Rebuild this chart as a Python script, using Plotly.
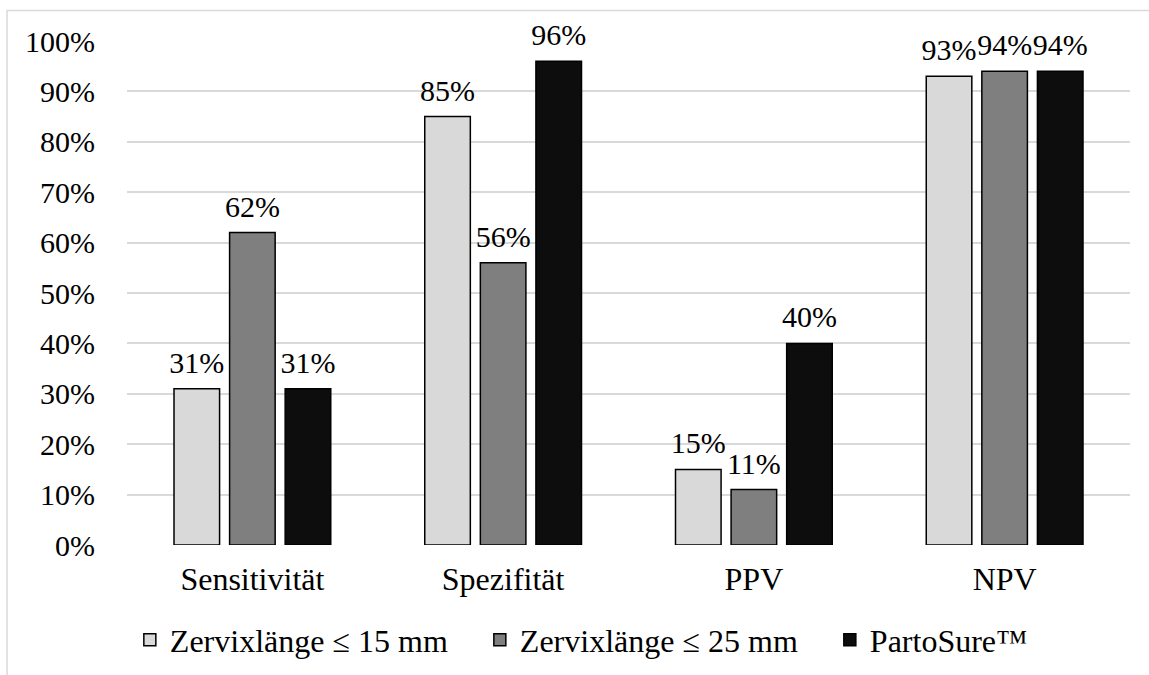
import plotly.graph_objects as go

# Diagnostic accuracy measures per method (fractions)
categories = ["Sensitivität", "Spezifität", "PPV", "NPV"]
series_names = ["Zervixlänge ≤ 15 mm", "Zervixlänge ≤ 25 mm", "PartoSure™"]
cl15 = [0.31, 0.85, 0.15, 0.93]
cl25 = [0.62, 0.56, 0.11, 0.94]
partosure = [0.31, 0.96, 0.40, 0.94]
series_values = [cl15, cl25, partosure]
series_colors = ["#d9d9d9", "#7f7f7f", "#0d0d0d"]
legend_widths = [305, 305, 160]

ytick_vals = [i / 10 for i in range(11)]
ytick_text = [f"{i * 10}%" for i in range(11)]

FONT = "Liberation Serif, Times New Roman, serif"
FS_NUM = 30   # percentages (ticks and value labels)
FS_TXT = 32   # category names and legend
BARGAP = 0.335

fig = go.Figure()
for i, (name, vals, col, lw) in enumerate(zip(series_names, series_values, series_colors, legend_widths)):
    fig.add_trace(go.Bar(
        x=categories,
        y=vals,
        name=name,
        offsetgroup=str(i),
        marker=dict(color=col, line=dict(color="#000000", width=1.5)),
        legendwidth=lw,
        hoverinfo="skip",
    ))

# value labels, grouped the same way as the bars and lifted above each bar top
for i, vals in enumerate(series_values):
    fig.add_trace(go.Scatter(
        x=categories,
        y=vals,
        mode="markers+text",
        offsetgroup=str(i),
        marker=dict(size=12, opacity=0),
        text=[f"{round(v * 100)}%" for v in vals],
        textposition="top center",
        textfont=dict(family=FONT, size=FS_NUM, color="#000000"),
        cliponaxis=False,
        showlegend=False,
        hoverinfo="skip",
    ))

fig.update_layout(
    width=1149,
    height=675,
    margin=dict(l=127, r=19, t=41, b=130, autoexpand=False),
    paper_bgcolor="#ffffff",
    plot_bgcolor="#ffffff",
    font=dict(family=FONT, size=FS_TXT, color="#000000"),
    barmode="group",
    bargap=BARGAP,
    bargroupgap=0.18,
    scattermode="group",
    scattergap=BARGAP,
    showlegend=True,
    legend=dict(
        orientation="h",
        xref="container", yref="container",
        x=0.113, y=0.052,
        xanchor="left", yanchor="middle",
        entrywidthmode="pixels",
        font=dict(family=FONT, size=FS_TXT, color="#000000"),
        bgcolor="rgba(0,0,0,0)",
        itemclick=False,
    ),
    xaxis=dict(
        showgrid=False,
        showline=False,
        zeroline=False,
        ticks="",
        automargin=False,
        ticklabelstandoff=12,
        tickfont=dict(family=FONT, size=FS_TXT, color="#000000"),
    ),
    yaxis=dict(
        range=[0, 1.0],
        tickvals=ytick_vals,
        ticktext=ytick_text,
        showgrid=True,
        gridcolor="#d9d9d9",
        gridwidth=1.5,
        zeroline=False,
        showline=False,
        ticks="",
        automargin=False,
        ticklabelstandoff=31,
        tickfont=dict(family=FONT, size=FS_NUM, color="#000000"),
    ),
    shapes=[
        # chart frame (continues beyond the right and bottom edges)
        dict(type="rect", xref="paper", yref="paper",
             x0=-0.1196, x1=1.2, y0=-0.5, y1=1.0605,
             line=dict(color="#d9d9d9", width=1.5),
             fillcolor="rgba(0,0,0,0)", layer="below"),
    ],
)

fig.write_html("out.html")
